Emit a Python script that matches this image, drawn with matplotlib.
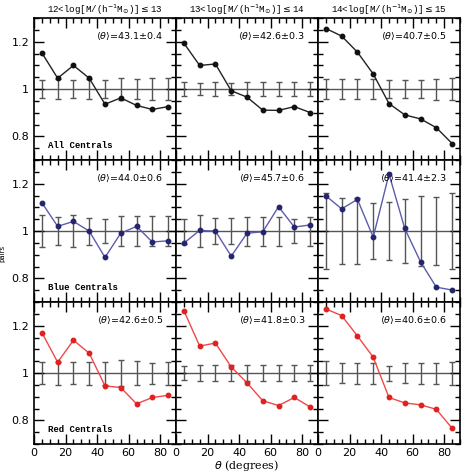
import numpy as np
import matplotlib
matplotlib.use("Agg")
import matplotlib.pyplot as plt
from matplotlib.ticker import MultipleLocator, FixedLocator

# ------- data -------
theta = [5, 15, 25, 35, 45, 55, 65, 75, 85]

col_titles = [r"12<log[M/(h$^{-1}$M$_{\odot}$)]$\leq$13",
              r"13<log[M/(h$^{-1}$M$_{\odot}$)]$\leq$14",
              r"14<log[M/(h$^{-1}$M$_{\odot}$)]$\leq$15"]
row_labels = ["All Centrals", "Blue Centrals", "Red Centrals"]

mean_theta = [["43.1", "42.6", "40.7"],
              ["44.0", "45.7", "41.4"],
              ["42.6", "41.8", "40.6"]]
mean_err = [["0.4", "0.3", "0.5"],
            ["0.6", "0.6", "2.3"],
            ["0.5", "0.3", "0.6"]]

# All centrals
all_m12 = [1.153, 1.046, 1.100, 1.046, 0.936, 0.963, 0.931, 0.914, 0.926]
all_m13 = [1.194, 1.100, 1.106, 0.993, 0.966, 0.911, 0.910, 0.926, 0.901]
all_m14 = [1.256, 1.224, 1.156, 1.064, 0.939, 0.891, 0.874, 0.837, 0.770]
all_e12 = [0.037, 0.041, 0.039, 0.041, 0.038, 0.046, 0.043, 0.046, 0.046]
all_e13 = [0.031, 0.027, 0.030, 0.026, 0.030, 0.030, 0.030, 0.030, 0.029]
all_e14 = [0.041, 0.041, 0.043, 0.041, 0.039, 0.039, 0.039, 0.044, 0.046]

# Blue centrals
blue_m12 = [1.120, 1.020, 1.041, 1.000, 0.889, 0.991, 1.020, 0.954, 0.959]
blue_m13 = [0.949, 1.003, 1.000, 0.894, 0.991, 0.997, 1.103, 1.017, 1.026]
blue_m14 = [1.149, 1.094, 1.134, 0.974, 1.241, 1.011, 0.870, 0.763, 0.751]
blue_e12 = [0.066, 0.059, 0.066, 0.057, 0.051, 0.062, 0.063, 0.064, 0.064]
blue_e13 = [0.053, 0.068, 0.054, 0.056, 0.061, 0.061, 0.061, 0.052, 0.061]
blue_e14 = [0.159, 0.140, 0.141, 0.118, 0.123, 0.136, 0.149, 0.144, 0.162]

# Red centrals
red_m12 = [1.171, 1.046, 1.139, 1.084, 0.946, 0.939, 0.870, 0.897, 0.906]
red_m13 = [1.264, 1.114, 1.127, 1.026, 0.959, 0.883, 0.863, 0.897, 0.857]
red_m14 = [1.271, 1.243, 1.157, 1.067, 0.897, 0.874, 0.866, 0.847, 0.767]
red_e12 = [0.048, 0.049, 0.045, 0.049, 0.049, 0.056, 0.051, 0.044, 0.049]
red_e13 = [0.029, 0.033, 0.035, 0.033, 0.034, 0.034, 0.035, 0.035, 0.034]
red_e14 = [0.052, 0.041, 0.044, 0.044, 0.032, 0.041, 0.044, 0.044, 0.049]

values = [[all_m12, all_m13, all_m14],
          [blue_m12, blue_m13, blue_m14],
          [red_m12, red_m13, red_m14]]
errors = [[all_e12, all_e13, all_e14],
          [blue_e12, blue_e13, blue_e14],
          [red_e12, red_e13, red_e14]]

line_colors = ["#222222", "#5c5cae", "#f04848"]
marker_colors = ["#111111", "#25256e", "#dd2222"]

# ------- figure -------
fig, axes = plt.subplots(3, 3, figsize=(4.67, 4.76), dpi=100)
fig.subplots_adjust(left=0.0728, right=0.985, top=0.962, bottom=0.067,
                    hspace=0, wspace=0)

for r in range(3):
    for c in range(3):
        ax = axes[r, c]
        ax.axhline(1.0, color="#555555", lw=1.0, zorder=1)
        ax.errorbar(theta, np.ones(len(theta)), yerr=errors[r][c], fmt="none",
                    ecolor="#555555", elinewidth=1.0, capsize=2.5, capthick=1.0,
                    zorder=2)
        ax.plot(theta, values[r][c], "-", color=line_colors[r], lw=1.0, zorder=3)
        ax.plot(theta, values[r][c], "o", color=marker_colors[r], ms=3.2,
                mec=marker_colors[r], zorder=4)

        ax.set_xlim(0, 90)
        ax.set_ylim(0.7, 1.3)
        ax.xaxis.set_major_locator(MultipleLocator(20))
        ax.xaxis.set_minor_locator(MultipleLocator(5))
        ax.yaxis.set_major_locator(FixedLocator([0.8, 1.0, 1.2]))
        ax.yaxis.set_minor_locator(MultipleLocator(0.05))
        ax.tick_params(which="both", direction="in", top=True, right=True,
                       labelsize=8, width=1.0)
        ax.tick_params(which="major", length=7)
        ax.tick_params(which="minor", length=3.5)
        ax.tick_params(axis="x", pad=2.5)
        for sp in ax.spines.values():
            sp.set_linewidth(1.2)

        if c == 0:
            ax.set_yticklabels(["0.8", "1", "1.2"])
        else:
            ax.set_yticklabels([])
        if r < 2:
            ax.set_xticklabels([])

        ax.text(0.91, 0.87,
                r"$\langle\theta\rangle$=" + mean_theta[r][c] + r"$\pm$" + mean_err[r][c],
                transform=ax.transAxes, ha="right", va="center", fontsize=6.8)
        if c == 0:
            ax.text(0.1, 0.1, row_labels[r], transform=ax.transAxes,
                    ha="left", va="center", fontsize=6.5,
                    family="Liberation Mono", fontweight="bold")
        if r == 0:
            ax.set_title(col_titles[c], fontsize=6.6, family="Liberation Mono",
                         pad=3.5)

axes[2, 1].set_xlabel(r"$\theta$ (degrees)", fontsize=8, family="DejaVu Serif",
                      labelpad=0)
fig.text(0.006, 1 - 253 / 476, "pairs", rotation=90, fontsize=5,
         ha="center", va="center")

fig.savefig("out.png", dpi=100)
